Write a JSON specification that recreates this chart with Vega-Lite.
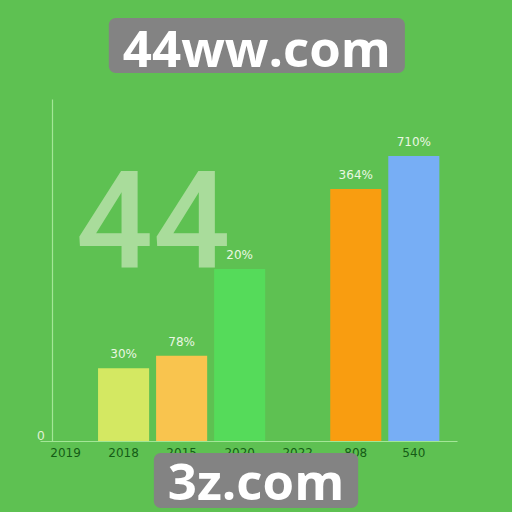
{
  "$schema": "https://vega.github.io/schema/vega-lite/v6.json",
  "width": 417,
  "height": 342,
  "autosize": {"type": "none"},
  "padding": {"left": 40, "top": 99, "right": 55, "bottom": 71},
  "background": "#5ec152",
  "config": {"view": {"stroke": null}, "font": "Liberation Sans"},
  "resolve": {"scale": {"x": "independent"}},
  "layer": [
    {
      "data": {
        "values": [
          {"year": "2018", "value": 21.3, "label": "30%"},
          {"year": "2015", "value": 24.9, "label": "78%"},
          {"year": "2020", "value": 50.3, "label": "20%"},
          {"year": "808", "value": 73.7, "label": "364%"},
          {"year": "540", "value": 83.3, "label": "710%"}
        ]
      },
      "encoding": {
        "x": {
          "field": "year", "type": "nominal",
          "scale": {"domain": ["2019", "2018", "2015", "2020", "2022", "808", "540"], "paddingInner": 0.12, "paddingOuter": 0.152, "align": 0},
          "axis": {"title": null, "labelAngle": 0, "ticks": false, "domainColor": "#a3e697", "domainWidth": 1.2, "labelColor": "#155c16", "labelFontSize": 12, "labelPadding": 6, "labelFont": "DejaVu Sans"}
        },
        "y": {
          "field": "value", "type": "quantitative",
          "scale": {"domain": [0, 100], "nice": false, "zero": true},
          "axis": {"title": null, "values": [0], "ticks": false, "grid": false, "offset": -12, "domainColor": "#a3e697", "domainWidth": 1.2, "labelColor": "#e2f3da", "labelFontSize": 13, "labelPadding": 8, "labelOffset": -6}
        }
      },
      "layer": [
        {
          "mark": {"type": "bar"},
          "encoding": {
            "color": {
              "field": "year", "type": "nominal", "legend": null,
              "scale": {"domain": ["2018", "2015", "2020", "808", "540"], "range": ["#d4e862", "#f9c44e", "#55db5a", "#f99d10", "#77aef5"]}
            }
          }
        },
        {
          "mark": {"type": "text", "dy": -14, "fontSize": 12, "color": "#eaf7e2", "baseline": "middle", "font": "DejaVu Sans"},
          "encoding": {"text": {"field": "label"}}
        }
      ]
    },
    {
      "data": {"values": [{"t": "44"}]},
      "mark": {"type": "text", "font": "Roboto", "fontSize": 136, "fontWeight": 500, "color": "#a9dc9b", "align": "center", "baseline": "alphabetic"},
      "encoding": {
        "x": {"datum": 27.1, "type": "quantitative", "scale": {"domain": [0, 100]}, "axis": null},
        "y": {"datum": 50.6, "type": "quantitative", "scale": {"domain": [0, 100], "nice": false, "zero": true}},
        "text": {"field": "t"}
      }
    },
    {
      "data": {"values": [{"t": "44ww.com"}]},
      "layer": [
        {
          "mark": {"type": "rect", "color": "#838383", "cornerRadius": 7},
          "encoding": {
            "x": {"datum": 16.5, "type": "quantitative", "scale": {"domain": [0, 100]}, "axis": null},
            "x2": {"datum": 87.5},
            "y": {"datum": 123.7, "type": "quantitative", "scale": {"domain": [0, 100], "nice": false}},
            "y2": {"datum": 107.6}
          }
        },
        {
          "mark": {"type": "text", "font": "Open Sans", "fontWeight": "bold", "fontSize": 51, "color": "white", "align": "center", "baseline": "alphabetic"},
          "encoding": {
            "x": {"datum": 52.0, "type": "quantitative", "scale": {"domain": [0, 100]}, "axis": null},
            "y": {"datum": 109.4, "type": "quantitative", "scale": {"domain": [0, 100], "nice": false}},
            "text": {"field": "t"}
          }
        }
      ]
    },
    {
      "data": {"values": [{"t": "3z.com"}]},
      "layer": [
        {
          "mark": {"type": "rect", "color": "#838383", "cornerRadius": 7},
          "encoding": {
            "x": {"datum": 27.3, "type": "quantitative", "scale": {"domain": [0, 100]}, "axis": null},
            "x2": {"datum": 76.3},
            "y": {"datum": -3.5, "type": "quantitative", "scale": {"domain": [0, 100], "nice": false}},
            "y2": {"datum": -19.6}
          }
        },
        {
          "mark": {"type": "text", "font": "Open Sans", "fontWeight": "bold", "fontSize": 51, "color": "white", "align": "center", "baseline": "alphabetic"},
          "encoding": {
            "x": {"datum": 51.8, "type": "quantitative", "scale": {"domain": [0, 100]}, "axis": null},
            "y": {"datum": -17.3, "type": "quantitative", "scale": {"domain": [0, 100], "nice": false}},
            "text": {"field": "t"}
          }
        }
      ]
    }
  ]
}
